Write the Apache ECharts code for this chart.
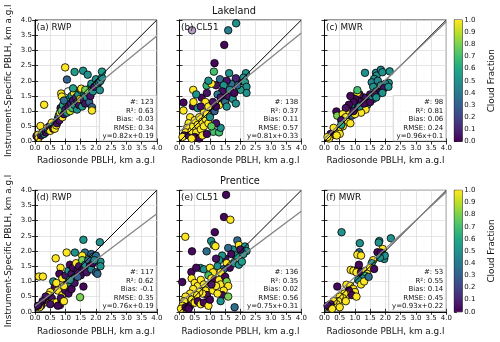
<!DOCTYPE html>
<html><head><meta charset="utf-8">
<script src="https://cdn.jsdelivr.net/npm/echarts@6/dist/echarts.min.js"></script>
<style>html,body{margin:0;padding:0;background:#fff}#c{width:500px;height:342px}</style>
</head><body><div id="c"></div>
<script>
// ---------- data ----------
const siteNames = ['Lakeland', 'Prentice'];
const panelNames = ['(a) RWP', '(b) CL51', '(c) MWR', '(d) RWP', '(e) CL51', '(f) MWR'];
const xAxisName = 'Radiosonde PBLH, km a.g.l';
const yAxisName = 'Instrument-Specific PBLH, km a.g.l';
const colorbarName = 'Cloud Fraction';
const axisMin = 0, axisMax = 4, axisStep = 0.5;
const cfMin = 0, cfMax = 1, cfStep = 0.1;

// [radiosonde PBLH, instrument PBLH, cloud fraction]  (cf -1 = white, -2 = lavender)
const pointsA = [[0.05,0.18,0.05],[0.1,0.22,1],[0.12,0.12,1],[0.18,0.51,1],[0.2,0.2,0.05],[0.25,0.3,0.9],[0.3,1.21,1],[0.3,0.25,0.5],[0.35,0.3,0.05],[0.4,0.45,1],[0.42,0.38,0.3],[0.48,0.5,0.05],[0.5,0.35,1],[0.55,0.62,1],[0.58,0.5,0.6],[0.6,0.42,0.05],[0.65,0.42,1],[0.7,0.53,1],[0.72,0.6,0.05],[0.75,0.75,0.7],[0.78,0.85,0.35],[0.8,0.7,0.05],[0.82,0.95,1],[0.84,1.1,0.05],[0.87,1.01,0.75],[0.86,1.58,1],[0.88,1.48,1],[0.9,0.8,1],[0.92,1.2,0.6],[0.95,0.9,0.05],[0.99,2.44,1],[1.0,1.05,0.1],[1.02,1.3,0.8],[1.05,2.04,0.3],[1.05,0.95,0.5],[1.09,1.65,-1],[1.1,1.15,0.05],[1.12,1.4,0.55],[1.15,1.0,0.9],[1.18,1.25,0.1],[1.2,1.5,0.5],[1.22,1.1,0.7],[1.25,1.35,0.05],[1.28,1.6,1],[1.3,2.29,0.55],[1.3,1.2,0.5],[1.35,1.45,0.1],[1.38,1.05,0.5],[1.4,1.3,0.3],[1.42,1.55,0.5],[1.45,1.2,0.05],[1.48,1.4,1],[1.5,1.7,0.5],[1.52,1.74,1],[1.55,1.15,0.55],[1.58,2.33,0.5],[1.6,1.35,0.1],[1.62,1.55,0.5],[1.65,1.25,0.05],[1.7,1.45,0.5],[1.73,2.2,0.5],[1.75,1.6,0.55],[1.78,1.3,0.3],[1.8,1.75,0.5],[1.82,1.5,0.05],[1.85,1.9,0.5],[1.87,1.13,0.3],[1.87,1.02,1],[1.9,1.65,0.5],[1.95,1.8,0.05],[2.0,2.05,0.5],[2.05,1.9,0.55],[2.1,1.95,0.3],[2.13,1.69,0.5],[2.15,2.0,0.5],[2.2,2.1,0.5],[2.2,2.3,0.55],[1.65,1.7,0.8],[1.25,1.75,0.55],[0.95,1.35,0.35]];
const pointsB = [[0.41,3.66,-2],[1.86,3.89,0.5],[1.6,3.66,0.42],[1.47,3.18,0.02],[1.15,2.58,0.02],[1.13,2.3,0.7],[1.63,2.25,0.5],[0.45,1.7,1],[0.73,1.44,0.02],[0.89,1.84,0.65],[1.33,2.05,0.35],[2.01,1.99,0.05],[1.85,2.08,0.1],[2.18,2.25,0.5],[2.1,2.1,0.5],[2.15,1.95,0.55],[2.2,1.8,0.5],[2.2,1.6,0.5],[2.0,1.7,0.55],[1.9,1.85,0.3],[1.7,1.9,0.35],[1.55,2.0,0.05],[1.45,1.85,0.5],[1.4,1.65,0.05],[1.25,1.55,0.4],[1.2,1.85,0.05],[1.05,1.9,1],[0.95,2.0,0.5],[0.9,1.6,0.05],[0.85,1.3,1],[0.55,1.55,0.5],[0.13,1.28,0.02],[0.13,1.02,1],[0.44,1.16,0.02],[0.46,1.3,1],[0.6,1.1,0.5],[0.7,1.15,0.05],[0.8,0.95,1],[0.95,1.15,1],[1.0,0.9,0.05],[1.1,1.3,0.05],[1.15,1.0,0.3],[1.3,1.2,1],[1.35,1.45,0.05],[1.5,1.3,0.35],[1.6,1.5,0.05],[1.65,1.7,0.45],[1.75,1.4,0.5],[1.8,1.6,0.02],[1.85,1.25,0.5],[1.55,1.15,0.5],[1.2,1.15,0.02],[0.35,0.8,1],[0.3,0.6,1],[0.25,0.45,1],[0.2,0.3,1],[0.15,0.2,0.02],[0.1,0.15,1],[0.3,0.2,0.05],[0.4,0.35,1],[0.45,0.5,1],[0.5,0.7,1],[0.55,0.3,1],[0.6,0.55,1],[0.65,0.8,1],[0.7,0.4,1],[0.75,0.65,1],[0.8,0.5,1],[0.85,0.75,1],[0.5,0.15,0.02],[0.65,0.1,0.02],[0.9,0.9,1],[0.95,0.6,1],[1.0,0.8,0.5],[1.11,0.32,0.7],[1.3,0.3,0.7],[1.35,0.45,0.5],[1.2,0.6,0.05],[0.75,0.2,1],[0.4,0.1,1],[1.05,0.5,0.75],[0.9,0.25,0.02]];
const pointsC = [[1.33,2.26,0.5],[1.69,2.26,0.45],[1.71,2.17,0.5],[1.85,2.36,0.45],[1.9,2.28,0.5],[2.14,2.31,0.5],[2.11,1.93,0.5],[1.63,2.06,0.5],[1.55,1.95,0.45],[1.75,2.0,0.45],[1.6,1.8,0.5],[1.85,1.85,0.5],[2.0,1.9,0.45],[1.95,1.75,0.05],[2.1,1.8,0.5],[1.7,1.65,0.35],[1.5,1.55,0.05],[1.8,1.6,0.02],[1.45,1.35,0.35],[1.6,1.4,0.4],[1.4,1.2,0.3],[1.3,1.45,0.05],[1.2,1.3,0.05],[1.15,1.55,0.02],[1.08,1.6,1],[1.08,1.69,0.7],[1.0,1.4,0.02],[1.05,1.2,0.05],[0.95,1.3,0.02],[0.9,1.1,0.5],[0.85,1.5,0.02],[0.8,1.21,0.02],[0.75,1.0,1],[0.7,1.1,0.05],[1.1,1.1,0.02],[1.25,1.1,0.35],[1.35,1.05,1],[1.2,0.95,1],[0.39,0.99,0.02],[0.42,0.85,0.8],[0.6,0.9,1],[0.65,0.75,0.02],[0.7,0.8,1],[0.55,0.7,0.05],[0.75,0.65,1],[0.85,0.6,1],[0.6,0.5,1],[0.5,0.45,1],[0.45,0.35,1],[0.35,0.3,1],[0.3,0.45,1],[0.25,0.2,1],[0.2,0.25,0.02],[0.15,0.1,1],[0.1,0.15,1],[0.5,0.25,1],[0.4,0.2,1],[0.55,0.55,0.6],[0.9,0.85,0.3],[1.0,0.9,1],[0.95,1.0,0.05],[1.15,1.15,0.45],[1.3,1.25,0.02],[1.5,1.3,0.02],[1.55,1.5,0.45],[1.65,1.55,0.05],[1.7,1.45,0.5],[1.9,1.6,0.5]];
const pointsD = [[1.59,2.37,0.5],[2.13,2.29,0.5],[0.68,1.76,1],[1.04,1.95,1],[1.31,1.95,0.5],[1.64,1.95,0.35],[1.55,1.85,1],[1.85,1.9,0.3],[1.9,1.8,0.5],[2.0,1.85,0.35],[2.15,1.65,0.5],[2.15,1.5,0.5],[0.13,1.16,1],[0.26,1.16,1],[0.84,1.45,1],[0.8,1.25,0.02],[0.9,1.1,1],[1.0,1.2,0.05],[1.1,1.35,0.5],[1.15,1.55,0.02],[1.2,1.25,0.05],[1.25,1.45,0.02],[1.3,1.1,0.55],[1.35,1.6,1],[1.4,1.35,0.05],[1.45,1.5,0.05],[1.5,1.2,0.02],[1.55,1.7,0.8],[1.6,1.4,0.02],[1.65,1.55,0.5],[1.7,1.3,0.05],[1.75,1.7,0.35],[1.8,1.5,0.02],[1.85,1.4,0.45],[1.9,1.6,0.02],[2.0,1.3,0.3],[2.05,1.25,0.35],[1.95,1.7,0.45],[1.59,0.83,0.02],[1.48,0.48,0.8],[0.6,1.0,0.5],[0.65,0.8,0.02],[0.7,0.95,1],[0.75,0.7,1],[0.5,0.65,1],[0.45,0.55,1],[0.4,0.4,1],[0.35,0.5,0.05],[0.3,0.3,1],[0.25,0.35,0.05],[0.2,0.2,0.05],[0.15,0.15,1],[0.1,0.2,0.05],[0.55,0.45,0.05],[0.6,0.3,1],[0.7,0.31,1],[0.82,0.22,0.02],[0.75,0.2,0.02],[0.5,0.25,0.05],[0.9,0.55,1],[1.0,0.7,0.05],[1.05,0.9,0.45],[0.95,0.85,1],[1.1,0.6,0.02],[1.2,0.75,0.02],[1.3,0.95,0.05],[0.85,0.45,0.05],[0.95,0.35,1],[1.15,1.05,0.5],[1.4,1.15,0.3]];
const pointsE = [[1.53,3.85,0.02],[1.46,3.12,0.02],[1.67,3.03,1],[1.16,2.62,0.02],[0.19,2.47,1],[0.41,1.99,0.02],[0.89,1.99,0.35],[1.04,2.33,0.5],[1.12,2.2,0.5],[1.18,2.16,1],[1.9,2.35,0.35],[1.95,2.2,1],[1.75,2.05,0.5],[1.6,2.1,0.35],[2.15,2.15,0.5],[2.2,2.0,0.5],[2.1,1.9,0.5],[2.0,2.05,0.05],[1.85,1.85,0.55],[1.7,1.9,0.02],[1.5,1.75,0.05],[1.4,1.85,0.5],[1.3,1.7,0.55],[1.25,1.5,0.5],[1.2,1.75,0.05],[1.55,1.6,1],[1.65,1.45,0.02],[1.8,1.6,0.5],[1.95,1.55,0.5],[2.05,1.65,0.55],[1.45,1.4,0.3],[1.35,1.3,1],[0.69,1.44,0.5],[0.39,1.31,0.02],[0.09,0.98,0.02],[0.55,1.45,0.02],[0.8,1.4,0.5],[1.0,1.45,1],[1.1,1.3,1],[0.95,1.2,0.7],[1.05,1.1,1],[1.15,1.05,0.02],[1.3,1.05,1],[1.35,0.9,1],[1.5,1.15,0.02],[1.55,1.0,0.8],[1.6,0.85,1],[1.45,0.7,1],[1.4,0.55,0.02],[1.6,0.5,0.8],[1.35,0.35,0.5],[0.4,1.1,1],[0.5,0.95,1],[0.6,0.85,1],[0.7,1.05,1],[0.8,0.9,1],[0.85,0.7,1],[0.9,0.55,0.05],[0.75,0.6,1],[0.65,0.65,1],[0.55,0.55,1],[0.45,0.75,1],[0.35,0.6,1],[0.3,0.45,1],[0.25,0.3,1],[0.2,0.5,1],[0.15,0.35,1],[0.1,0.2,1],[0.05,0.1,1],[0.2,0.15,0.02],[0.35,0.2,0.02],[0.4,0.4,1],[0.5,0.3,1],[0.6,0.35,0.02],[0.7,0.25,1],[0.8,0.3,0.02],[0.95,0.2,1],[1.0,0.4,0.02],[1.1,0.7,1],[1.2,0.85,1],[1.25,0.6,1],[1.81,0.15,0.35],[0.3,0.1,0.02],[1.05,0.9,0.05]];
const pointsF = [[0.56,2.62,0.5],[1.16,2.26,0.5],[1.8,2.33,0.5],[1.78,2.28,0.5],[2.18,2.42,0.5],[1.14,1.96,0.35],[1.08,1.88,1],[1.2,1.85,1],[1.74,1.96,0.02],[1.91,2.07,1],[1.85,1.95,0.02],[1.96,1.74,0.5],[1.98,1.85,0.5],[1.82,1.78,0.5],[1.6,1.7,1],[1.55,1.6,0.5],[0.86,1.38,1],[0.95,1.35,1],[1.11,1.44,0.02],[1.13,1.55,0.02],[1.05,1.3,1],[1.2,1.3,0.05],[1.35,1.35,1],[1.5,1.45,1],[1.63,1.41,0.02],[1.4,1.25,1],[1.33,1.19,0.7],[1.25,1.1,0.5],[1.11,1.05,0.5],[1.2,0.9,1],[0.42,0.83,0.02],[0.72,0.89,1],[0.85,0.85,1],[0.95,0.75,1],[1.0,0.65,1],[0.8,0.7,0.02],[0.75,0.55,1],[0.65,0.6,1],[0.6,0.45,1],[0.5,0.5,1],[0.45,0.35,1],[0.4,0.25,1],[0.5,0.15,1],[0.3,0.35,1],[0.2,0.25,0.05],[0.15,0.15,1],[0.1,0.2,0.05],[0.25,0.1,1],[0.9,0.55,0.02],[1.05,0.5,1],[0.7,0.35,1],[1.3,1.0,1],[1.45,1.15,0.35]];

const statN = [123, 138, 98, 117, 136, 53];
const statR2 = [0.63, 0.37, 0.81, 0.62, 0.35, 0.55];
const statBias = [-0.03, 0.11, 0.06, -0.1, 0.02, 0.14];
const statRMSE = [0.34, 0.57, 0.24, 0.35, 0.56, 0.45];
const fitSlope = [0.82, 0.81, 0.96, 0.76, 0.75, 0.93];
const fitIntercept = [0.19, 0.33, 0.1, 0.19, 0.31, 0.22];

// ---------- styling / layout ----------
const FONT = 'DejaVu Sans';
const viridisStops = ['#440154','#482475','#414487','#355f8d','#2a788e','#21918c','#22a884','#44bf70','#7ad151','#bddf26','#fde725'];
function hex2rgb(h){return [parseInt(h.slice(1,3),16),parseInt(h.slice(3,5),16),parseInt(h.slice(5,7),16)];}
function viridis(t){
  t = Math.max(0, Math.min(1, t));
  const s = t * (viridisStops.length - 1);
  const i = Math.min(Math.floor(s), viridisStops.length - 2);
  const f = s - i;
  const a = hex2rgb(viridisStops[i]), b = hex2rgb(viridisStops[i + 1]);
  return 'rgb(' + a.map((v, k) => Math.round(v + (b[k] - v) * f)).join(',') + ')';
}
function pointColor(cf){ if (cf === -1) return '#ffffff'; if (cf === -2) return '#b8a0c8'; return viridis(cf); }

const allPoints = [pointsA, pointsB, pointsC, pointsD, pointsE, pointsF];
const colLeft = [35, 179.5, 324.5];
const rowTop = [20, 190.3];
const PW = 121.8, PH = 121.5;
const cbLeft = 454.3, cbW = 8;
const titleX = [234, 240];

const grids = [], xAxes = [], yAxes = [], series = [], graphics = [];
const lineCol = '#000', lw = 0.8;

for (let i = 0; i < 6; i++) {
  const r = Math.floor(i / 3), c = i % 3;
  const left = colLeft[c], top = rowTop[r];
  grids.push({left: left, top: top, width: PW, height: PH, show: true, borderColor: '#000', borderWidth: lw, backgroundColor: '#fff'});
  const baseAxis = {gridIndex: i, type: 'value', min: axisMin, max: axisMax, interval: axisStep,
    axisLine: {show: true, lineStyle: {color: lineCol, width: lw}},
    axisTick: {show: true, length: 3, lineStyle: {color: lineCol, width: lw}}};
  xAxes.push(Object.assign({}, baseAxis, {position: 'bottom',
    axisLabel: {show: true, fontSize: 7, fontFamily: FONT, color: '#111', margin: 3, formatter: v => v.toFixed(1)},
    splitLine: {show: true, lineStyle: {color: '#dedede', width: 0.8}},
    name: xAxisName, nameLocation: 'middle', nameGap: 15,
    nameTextStyle: {fontSize: 8.8, fontFamily: FONT, color: '#111'}}));
  xAxes.push(Object.assign({}, baseAxis, {position: 'top', axisLabel: {show: false}, splitLine: {show: false}}));
  yAxes.push(Object.assign({}, baseAxis, {position: 'left',
    axisLabel: {show: c === 0, fontSize: 7, fontFamily: FONT, color: '#111', margin: 3, formatter: v => v.toFixed(1)},
    splitLine: {show: true, lineStyle: {color: '#dedede', width: 0.8}},
    name: c === 0 ? yAxisName : '', nameLocation: 'middle', nameGap: 22, nameRotate: 90,
    nameTextStyle: {fontSize: 8.8, fontFamily: FONT, color: '#111'}}));
  yAxes.push(Object.assign({}, baseAxis, {position: 'right', axisLabel: {show: false}, splitLine: {show: false}}));

  series.push({type: 'scatter', xAxisIndex: 2 * i, yAxisIndex: 2 * i, z: 2,
    data: allPoints[i], symbolSize: 7.5,
    itemStyle: {color: p => pointColor(p.data[2]), borderColor: '#000', borderWidth: 0.8, opacity: 1},
    emphasis: {disabled: true}, animation: false});
  series.push({type: 'line', xAxisIndex: 2 * i, yAxisIndex: 2 * i, z: 4, symbol: 'none', animation: false,
    data: [[axisMin, axisMin], [axisMax, axisMax]], lineStyle: {color: '#000', width: 1}});
  series.push({type: 'line', xAxisIndex: 2 * i, yAxisIndex: 2 * i, z: 4, symbol: 'none', animation: false,
    data: [[axisMin, fitSlope[i] * axisMin + fitIntercept[i]], [axisMax, fitSlope[i] * axisMax + fitIntercept[i]]],
    lineStyle: {color: '#858585', width: 1.3}});

  graphics.push({type: 'text', z: 100, left: left + 1.5, top: top + 3,
    style: {text: panelNames[i], fontSize: 8.8, fontFamily: FONT, fill: '#111'}});
  const lines = ['#: ' + statN[i], 'R²: ' + statR2[i], 'Bias: ' + statBias[i], 'RMSE: ' + statRMSE[i],
    'y=' + fitSlope[i] + 'x+' + fitIntercept[i]];
  graphics.push({type: 'text', z: 1, x: left + PW - 1, y: top + PH - 1,
    style: {text: lines.join('\n'), align: 'right', verticalAlign: 'bottom', fontSize: 7, lineHeight: 8.5,
      fontFamily: FONT, fill: '#111', backgroundColor: 'rgba(255,255,255,0.85)', borderColor: '#cccccc',
      borderWidth: 0.8, padding: [2, 2, 0, 3]}});
}
for (let r = 0; r < 2; r++) {
  graphics.push({type: 'text', z: 100, x: titleX[r], y: rowTop[r] - 8.5,
    style: {text: siteNames[r], align: 'center', verticalAlign: 'middle', fontSize: 9.8, fontFamily: FONT, fill: '#111'}});
}

// colorbars
const cbStops = viridisStops.map((col, k) => ({offset: k / (viridisStops.length - 1), color: col}));
for (let r = 0; r < 2; r++) {
  const gi = 6 + r;
  grids.push({left: cbLeft, top: rowTop[r], width: cbW, height: PH, show: true, borderColor: '#000', borderWidth: lw});
  xAxes.push({gridIndex: gi, type: 'value', min: 0, max: 1, show: false});
  yAxes.push({gridIndex: gi, type: 'value', min: cfMin, max: cfMax, interval: cfStep, position: 'right',
    axisLine: {show: true, lineStyle: {color: lineCol, width: lw}},
    axisTick: {show: true, length: 2.5, lineStyle: {color: lineCol, width: lw}},
    axisLabel: {show: true, fontSize: 7, fontFamily: FONT, color: '#111', margin: 2, formatter: v => v.toFixed(1)},
    splitLine: {show: false},
    name: colorbarName, nameLocation: 'middle', nameRotate: 90, nameGap: 25,
    nameTextStyle: {fontSize: 8.8, fontFamily: FONT, color: '#111'}});
  series.push({type: 'custom', xAxisIndex: 12 + r, yAxisIndex: 12 + r, z: 1, animation: false,
    data: [[cfMin, cfMax]], silent: true,
    renderItem: (params, api) => {
      const p0 = api.coord([0, cfMin]), p1 = api.coord([1, cfMax]);
      return {type: 'rect', shape: {x: p0[0], y: p1[1], width: p1[0] - p0[0], height: p0[1] - p1[1]},
        style: {fill: new echarts.graphic.LinearGradient(0, 1, 0, 0, cbStops)}};
    }});
}

const chart = echarts.init(document.getElementById('c'), null, {renderer: 'canvas'});
chart.setOption({backgroundColor: '#fff', animation: false, grid: grids, xAxis: xAxes, yAxis: yAxes, series: series, graphic: graphics});
</script></body></html>
